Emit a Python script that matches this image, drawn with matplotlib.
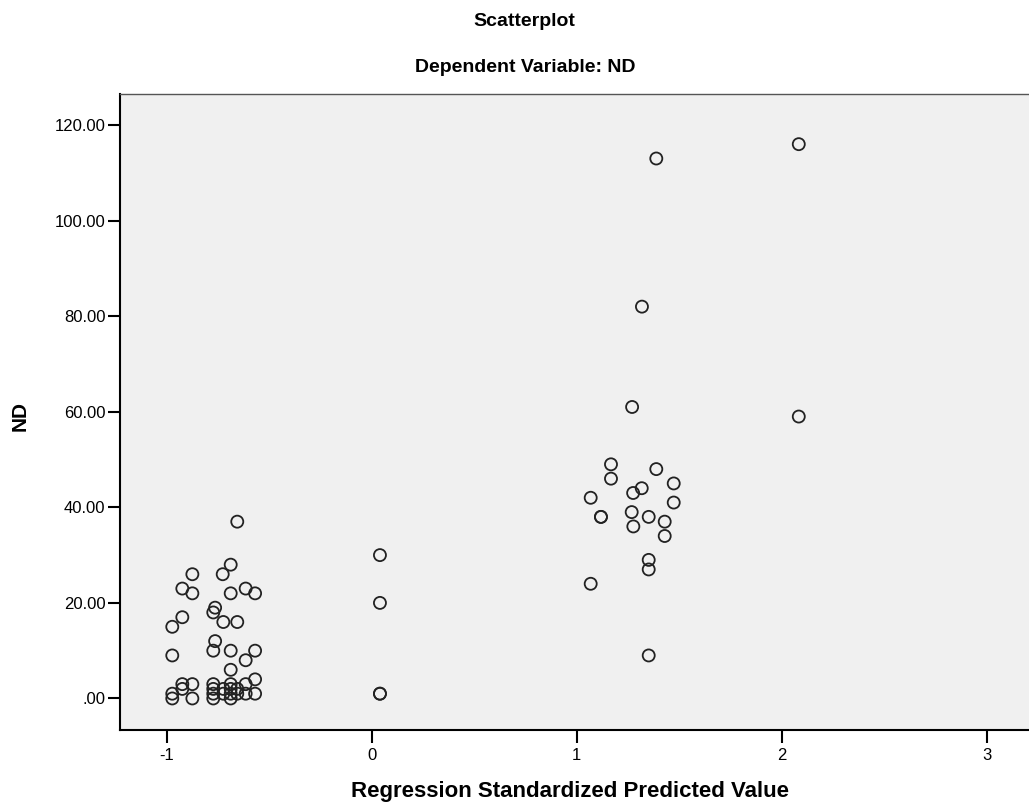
import numpy as np
import matplotlib
matplotlib.use("Agg")
import matplotlib.pyplot as plt

plt.rcParams['font.family'] = ['Liberation Sans', 'DejaVu Sans']

# standardized predicted values (x) and ND (y)
low_x = [-0.656, -0.688, -0.727, -0.875, -0.924, -0.875, -0.688, -0.615, -0.569,
         -0.764, -0.773, -0.724, -0.656, -0.924, -0.973, -0.764, -0.773, -0.688,
         -0.569, -0.973, -0.615, -0.688, -0.569,
         -0.973, -0.973, -0.924, -0.924, -0.875, -0.875,
         -0.773, -0.773, -0.773, -0.773, -0.724, -0.724,
         -0.688, -0.688, -0.688, -0.688, -0.656, -0.656,
         -0.615, -0.615, -0.569]
low_y = [37, 28, 26, 26, 23, 22, 22, 23, 22,
         19, 18, 16, 16, 17, 15, 12, 10, 10,
         10, 9, 8, 6, 4,
         1, 0, 3, 2, 3, 0,
         3, 2, 1, 0, 2, 1,
         3, 2, 1, 0, 2, 1,
         3, 1, 1]

mid_x = [0.040, 0.040, 0.040, 0.040]
mid_y = [30, 20, 1, 1]

high_x = [1.167, 1.167, 1.388, 1.473, 1.317, 1.275, 1.068, 1.473, 1.118, 1.118,
          1.268, 1.351, 1.276, 1.429, 1.429, 1.351, 1.351, 1.068, 1.351,
          1.388, 2.083, 1.318, 1.270, 2.083]
high_y = [49, 46, 48, 45, 44, 43, 42, 41, 38, 38,
          39, 38, 36, 37, 34, 29, 27, 24, 9,
          113, 116, 82, 61, 59]

x = low_x + mid_x + high_x
y = low_y + mid_y + high_y

xticks = [-1, 0, 1, 2, 3]
yticks = [0, 20, 40, 60, 80, 100, 120]
ytick_labels = ['.00', '20.00', '40.00', '60.00', '80.00', '100.00', '120.00']

fig = plt.figure(figsize=(10.29, 8.08), dpi=100)
ax = fig.add_axes([120 / 1029, 1 - 730 / 808, (1029 - 120) / 1029, (730 - 94) / 808])
ax.set_facecolor('#F0F0F0')

ax.scatter(x, y, s=75, facecolors='none', edgecolors='#222222', linewidths=1.3)

ax.set_xlim(-1.228, 3.206)
ax.set_ylim(-6.6, 126.5)
ax.set_xticks(xticks)
ax.set_xticklabels([str(t) for t in xticks])
ax.set_yticks(yticks)
ax.set_yticklabels(ytick_labels)
ax.tick_params(axis='both', direction='out', length=9, width=1.5, labelsize=12, pad=1.5)
ax.tick_params(axis='x', pad=4)

ax.spines['right'].set_visible(False)
for side in ['left', 'bottom']:
    ax.spines[side].set_linewidth(1.5)
ax.spines['top'].set_linewidth(1.0)
ax.spines['top'].set_color('#555555')

fig.text(0.51, 1 - 22 / 808, 'Scatterplot', ha='center', va='center',
         fontsize=14, fontweight='bold')
fig.text(0.51, 1 - 68 / 808, 'Dependent Variable: ND', ha='center', va='center',
         fontsize=14, fontweight='bold')
fig.text(570 / 1029, 1 - 792 / 808, 'Regression Standardized Predicted Value',
         ha='center', va='center', fontsize=16, fontweight='bold')
fig.text(20 / 1029, 1 - 416 / 808, 'ND', ha='center', va='center', rotation=90,
         fontsize=15, fontweight='bold')

fig.savefig('out.png', dpi=100)
